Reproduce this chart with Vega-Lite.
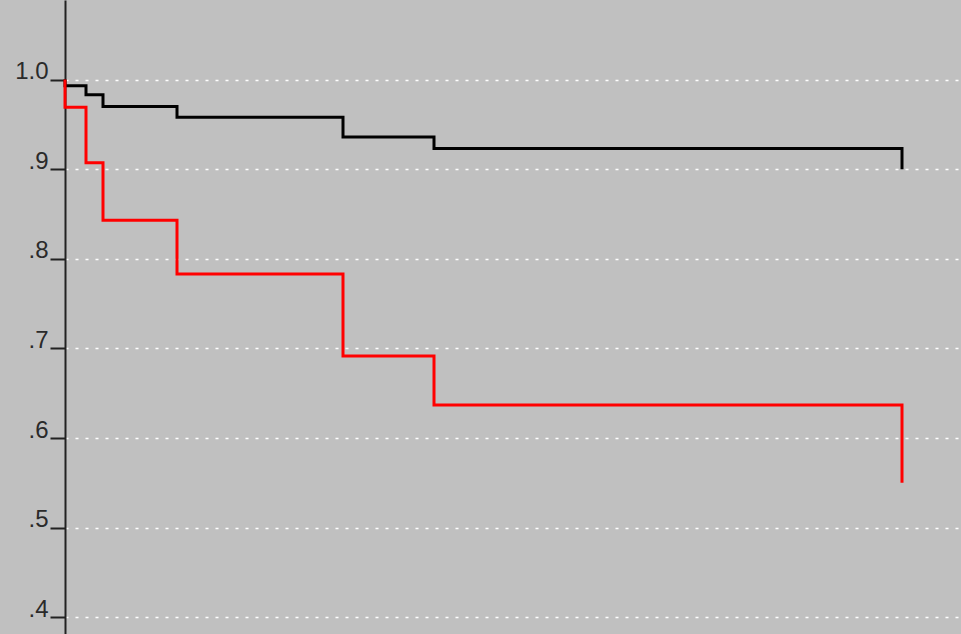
{
  "$schema": "https://vega.github.io/schema/vega-lite/v6.json",
  "autosize": {"type": "none"},
  "padding": {"left": 65, "top": 0, "right": 0, "bottom": 0},
  "width": 896,
  "height": 634,
  "background": "#c0c0c0",
  "config": {"view": {"stroke": null}},
  "data": {
    "values": [
      {"t": 0, "s": 1.0, "group": "A"},
      {"t": 0, "s": 0.993, "group": "A"},
      {"t": 21, "s": 0.983, "group": "A"},
      {"t": 38, "s": 0.970, "group": "A"},
      {"t": 112, "s": 0.958, "group": "A"},
      {"t": 278, "s": 0.936, "group": "A"},
      {"t": 369, "s": 0.923, "group": "A"},
      {"t": 837, "s": 0.900, "group": "A"},
      {"t": 0, "s": 1.0, "group": "B"},
      {"t": 0, "s": 0.969, "group": "B"},
      {"t": 21, "s": 0.907, "group": "B"},
      {"t": 38, "s": 0.843, "group": "B"},
      {"t": 112, "s": 0.783, "group": "B"},
      {"t": 278, "s": 0.6915, "group": "B"},
      {"t": 369, "s": 0.637, "group": "B"},
      {"t": 837, "s": 0.550, "group": "B"}
    ]
  },
  "mark": {"type": "line", "interpolate": "step-after", "strokeWidth": 3},
  "encoding": {
    "x": {"field": "t", "type": "quantitative", "scale": {"domain": [0, 896], "nice": false, "zero": false}, "axis": null},
    "y": {
      "field": "s", "type": "quantitative",
      "scale": {"domain": [0.3814, 1.0887], "nice": false, "zero": false},
      "axis": {
        "title": null,
        "values": [0.4, 0.5, 0.6, 0.7, 0.8, 0.9, 1.0],
        "labelExpr": "datum.value >= 0.99 ? '1.0' : replace(format(datum.value, '.1f'), '0.', '.')",
        "labelFont": "Liberation Sans",
        "labelFontSize": 24,
        "labelFontWeight": "normal",
        "labelColor": "#2a2a2a",
        "labelBaseline": "alphabetic",
        "labelOffset": -1,
        "labelPadding": 2,
        "tickColor": "#222222",
        "tickSize": 15,
        "tickWidth": 2,
        "domainColor": "#222222",
        "domainWidth": 2,
        "grid": true,
        "gridColor": "#ffffff",
        "gridDash": [3, 7],
        "gridWidth": 1.5
      }
    },
    "color": {"field": "group", "type": "nominal", "scale": {"domain": ["A", "B"], "range": ["#000000", "#ff0000"]}, "legend": null},
    "order": {"field": "t", "type": "quantitative"}
  }
}
